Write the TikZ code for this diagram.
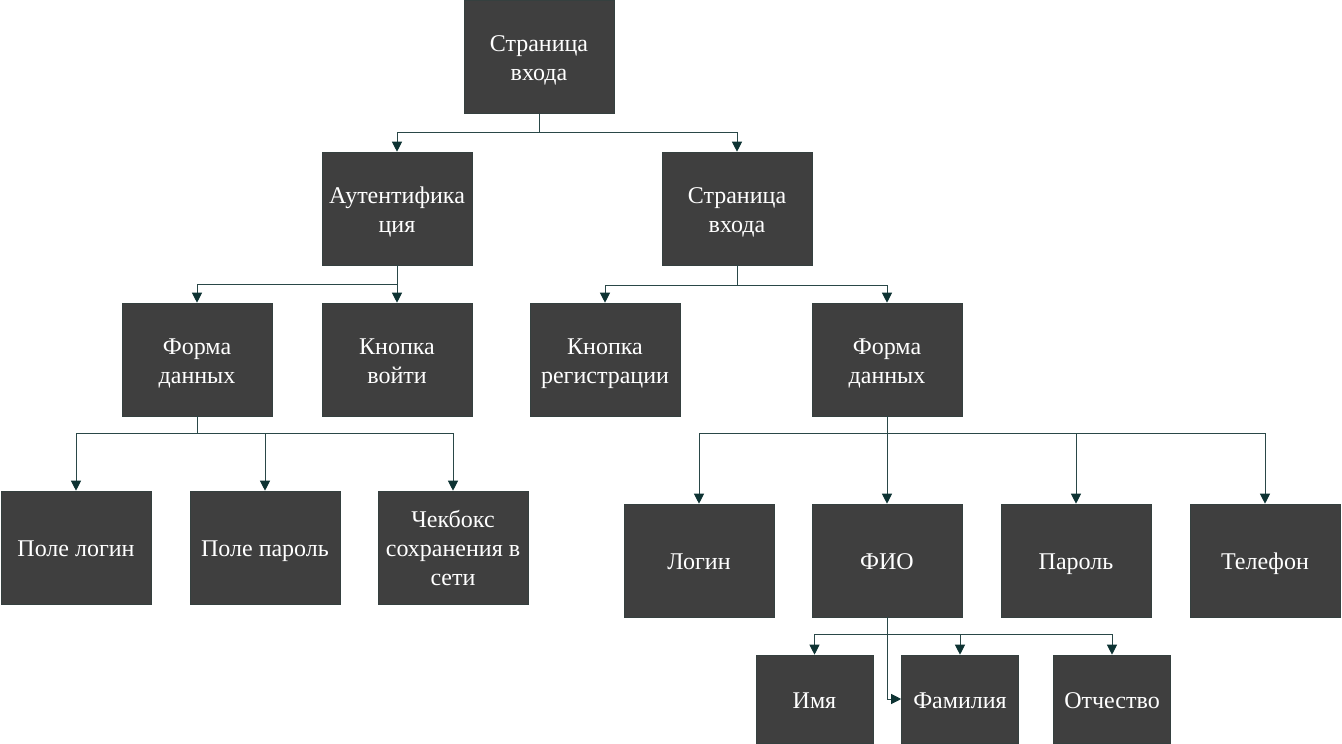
\documentclass[tikz,border=0pt]{standalone}
\usepackage{fontspec}
\setmainfont{Liberation Serif}
\usetikzlibrary{arrows.meta}
\definecolor{boxfill}{HTML}{3F3F3F}
\definecolor{boxline}{HTML}{35403F}
\definecolor{conncol}{HTML}{2A4848}
\definecolor{tipcol}{HTML}{0E3333}
\newcommand{\tstrut}{\rule{0pt}{27pt}}
\tikzset{
  box/.style={rectangle, fill=boxfill, draw=boxline, line width=0.6pt,
    minimum width=150pt, minimum height=113pt, inner sep=0pt,
    align=center, text=white, font=\fontsize{24pt}{29pt}\selectfont,
    execute at begin node={\tstrut}, execute at end node={\strut}},
  smallbox/.style={box, minimum width=117pt, minimum height=88pt},
  conn/.style={draw=conncol, line width=1pt,
    -{Triangle[width=10pt,length=10pt,fill=tipcol,color=tipcol]}}
}
\begin{document}
\begin{tikzpicture}[x=1pt,y=-1pt]
\useasboundingbox (0,0) rectangle (1342,744);
\fill[white] (0,0) rectangle (1342,744);
% level 0
\node[box] (top) at (539,57) {\tstrut Страница\\входа};
% level 1
\node[box] (auth) at (397,208.5) {\tstrut Аутентифика\\ция};
\node[box] (page) at (737,208.5) {\tstrut Страница\\входа};
% level 2
\node[box] (formL) at (197,359.5) {\tstrut Форма\\данных};
\node[box] (btnIn) at (397,359.5) {\tstrut Кнопка\\войти};
\node[box] (btnReg) at (605,359.5) {\tstrut Кнопка\\регистрации};
\node[box] (formR) at (887,359.5) {\tstrut Форма\\данных};
% level 3 left
\node[box] (login) at (76,547.5) {Поле логин};
\node[box] (pass) at (265,547.5) {Поле пароль};
\node[box] (check) at (453,547.5) {\tstrut Чекбокс\\сохранения в\\сети};
% level 3 right
\node[box] (rlogin) at (699,560.5) {Логин};
\node[box] (fio) at (887,560.5) {ФИО};
\node[box] (rpass) at (1076,560.5) {Пароль};
\node[box] (phone) at (1265,560.5) {Телефон};
% level 4
\node[smallbox] (name) at (814.5,699) {Имя};
\node[smallbox] (fam) at (960,699) {Фамилия};
\node[smallbox] (patr) at (1112,699) {Отчество};
% connectors
\draw[conn] (top.south) -- ++(0,19) -| (auth.north);
\draw[conn] (top.south) -- ++(0,19) -| (page.north);
\draw[conn] (auth.south) -- ++(0,19) -| (formL.north);
\draw[conn] (auth.south) -- (btnIn.north);
\draw[conn] (page.south) -- ++(0,20) -| (btnReg.north);
\draw[conn] (page.south) -- ++(0,20) -| (formR.north);
\draw[conn] (formL.south) -- ++(0,17) -| (login.north);
\draw[conn] (formL.south) -- ++(0,17) -| (pass.north);
\draw[conn] (formL.south) -- ++(0,17) -| (check.north);
\draw[conn] (formR.south) -- ++(0,17) -| (rlogin.north);
\draw[conn] (formR.south) -- (fio.north);
\draw[conn] (formR.south) -- ++(0,17) -| (rpass.north);
\draw[conn] (formR.south) -- ++(0,17) -| (phone.north);
\draw[conn] (fio.south) -- ++(0,17) -| (name.north);
\draw[conn] (fio.south) -- ++(0,17) -| (fam.north);
\draw[conn] (fio.south) -- ++(0,17) -| (patr.north);
\draw[conn] (fio.south) |- (fam.west);
\end{tikzpicture}
\end{document}
